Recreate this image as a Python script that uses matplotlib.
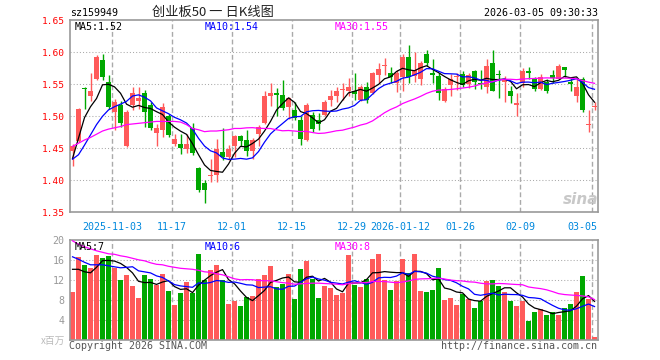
import matplotlib
matplotlib.use("Agg")
import matplotlib.pyplot as plt
import numpy as np
import pandas as pd

# daily candles, index 0 = 2025-10-23 ... index 87 = 2026-03-05
opens = [1.446, 1.462, 1.543, 1.531, 1.558, 1.588, 1.554, 1.506, 1.518, 1.454,
         1.518, 1.524, 1.536, 1.518, 1.474, 1.478, 1.500, 1.457, 1.457, 1.449,
         1.481, 1.420, 1.396, 1.406, 1.408, 1.444, 1.436, 1.453, 1.469, 1.463,
         1.445, 1.472, 1.490, 1.531, 1.537, 1.533, 1.514, 1.510, 1.494, 1.463,
         1.502, 1.494, 1.502, 1.525, 1.532, 1.541, 1.540, 1.539, 1.526, 1.546,
         1.536, 1.565, 1.578, 1.568, 1.552, 1.562, 1.593, 1.563, 1.558, 1.598,
         1.567, 1.563, 1.524, 1.549, 1.562, 1.566, 1.550, 1.571, 1.552, 1.545,
         1.583, 1.566, 1.553, 1.540, 1.517, 1.552, 1.570, 1.558, 1.543, 1.553,
         1.564, 1.559, 1.577, 1.553, 1.532, 1.558, 1.487, 1.514]
highs = [1.457, 1.513, 1.546, 1.568, 1.596, 1.597, 1.565, 1.527, 1.524, 1.510,
         1.545, 1.545, 1.541, 1.523, 1.488, 1.521, 1.503, 1.473, 1.472, 1.473,
         1.489, 1.421, 1.400, 1.434, 1.465, 1.481, 1.455, 1.470, 1.471, 1.479,
         1.466, 1.487, 1.539, 1.552, 1.544, 1.557, 1.530, 1.523, 1.501, 1.520,
         1.507, 1.505, 1.526, 1.541, 1.546, 1.552, 1.560, 1.567, 1.549, 1.553,
         1.569, 1.583, 1.591, 1.577, 1.572, 1.598, 1.612, 1.600, 1.587, 1.604,
         1.589, 1.567, 1.545, 1.566, 1.568, 1.570, 1.567, 1.572, 1.572, 1.589,
         1.604, 1.573, 1.563, 1.548, 1.537, 1.575, 1.577, 1.562, 1.566, 1.559,
         1.573, 1.582, 1.577, 1.561, 1.558, 1.561, 1.510, 1.523]
lows = [1.422, 1.460, 1.512, 1.524, 1.556, 1.556, 1.511, 1.478, 1.483, 1.452,
        1.510, 1.512, 1.483, 1.479, 1.454, 1.467, 1.468, 1.453, 1.441, 1.442,
        1.440, 1.381, 1.364, 1.398, 1.398, 1.432, 1.432, 1.437, 1.454, 1.438,
        1.433, 1.453, 1.488, 1.516, 1.500, 1.510, 1.496, 1.494, 1.455, 1.462,
        1.476, 1.479, 1.501, 1.516, 1.523, 1.526, 1.531, 1.526, 1.524, 1.520,
        1.535, 1.552, 1.564, 1.552, 1.538, 1.539, 1.552, 1.553, 1.549, 1.578,
        1.552, 1.525, 1.523, 1.531, 1.541, 1.546, 1.544, 1.542, 1.542, 1.536,
        1.539, 1.528, 1.523, 1.521, 1.500, 1.546, 1.558, 1.540, 1.541, 1.537,
        1.552, 1.558, 1.561, 1.539, 1.523, 1.506, 1.476, 1.510]
closes = [1.454, 1.511, 1.542, 1.540, 1.592, 1.561, 1.515, 1.522, 1.490, 1.507,
          1.537, 1.529, 1.506, 1.482, 1.482, 1.515, 1.471, 1.465, 1.451, 1.457,
          1.442, 1.385, 1.385, 1.408, 1.449, 1.436, 1.449, 1.469, 1.462, 1.445,
          1.463, 1.483, 1.532, 1.537, 1.534, 1.513, 1.528, 1.497, 1.465, 1.518,
          1.480, 1.488, 1.522, 1.532, 1.540, 1.543, 1.546, 1.535, 1.546, 1.526,
          1.568, 1.574, 1.579, 1.561, 1.568, 1.593, 1.562, 1.572, 1.584, 1.584,
          1.565, 1.536, 1.542, 1.558, 1.5635, 1.549, 1.565, 1.554, 1.550, 1.579,
          1.539, 1.565, 1.558, 1.532, 1.521, 1.570, 1.567, 1.542, 1.562, 1.539,
          1.560, 1.578, 1.573, 1.551, 1.546, 1.510, 1.488, 1.515]
volumes = [9.7, 16.7, 15.1, 14.4, 17.1, 16.4, 16.9, 14.4, 12.1, 13.1,
           10.9, 8.5, 13.1, 12.3, 11.1, 13.3, 9.9, 7.1, 9.5, 11.7,
           9.5, 17.3, 12.1, 14.1, 15.1, 12.1, 7.3, 7.9, 6.9, 8.7,
           8.9, 12.3, 13.1, 14.9, 10.7, 11.3, 13.3, 8.3, 14.3, 15.9,
           12.3, 8.5, 10.9, 10.5, 9.1, 9.5, 17.1, 11.1, 10.7, 12.3,
           16.3, 17.3, 12.1, 10.1, 11.9, 16.3, 13.5, 17.3, 9.9, 9.7,
           10.1, 14.5, 8.1, 8.5, 7.1, 9.3, 8.3, 6.5, 7.9, 11.9,
           12.1, 10.9, 9.7, 7.9, 6.9, 7.9, 3.9, 5.7, 6.3, 5.1,
           5.6, 5.1, 6.5, 7.3, 9.7, 12.9, 8.3, 0.7]

price_ma5_head = [1.434, 1.466, 1.498, 1.515]
price_ma10_head = [1.433, 1.440, 1.455, 1.471, 1.487, 1.500, 1.510, 1.515, 1.519]
price_ma30_head = [1.453, 1.458, 1.463, 1.467, 1.472, 1.477, 1.480, 1.482, 1.484,
                   1.487, 1.488, 1.489, 1.490, 1.491, 1.492, 1.492, 1.492, 1.492,
                   1.491, 1.487, 1.481, 1.479, 1.476, 1.477, 1.477, 1.478, 1.479,
                   1.481, 1.481]
vol_ma5_head = [14.2, 14.2, 13.7, 13.5]
vol_ma10_head = [16.7, 16.2, 15.6, 15.1, 15.1, 15.1, 14.9, 14.7, 14.5]
vol_ma30_head = [19.9, 19.2, 18.7, 18.3, 17.9, 17.6, 17.3, 17.2, 16.9, 16.7,
                 16.4, 16.1, 15.9, 15.5, 15.2, 15.1, 14.8, 14.6, 14.4, 14.3,
                 14.2, 14.0, 13.7, 13.6, 13.3, 13.1, 12.7, 12.3, 12.1]

date_pos = [7, 17, 27, 37, 47, 55, 65, 75, 87]
date_labels = ["2025-11-03", "11-17", "12-01", "12-15", "12-29",
               "2026-01-12", "01-26", "02-09", "03-05"]
price_ticks = [1.35, 1.40, 1.45, 1.50, 1.55, 1.60, 1.65]
vol_ticks = [4, 8, 12, 16, 20]
price_ma_labels = ["MA5:1.52", "MA10:1.54", "MA30:1.55"]
vol_ma_labels = ["MA5:7", "MA10:6", "MA30:8"]

MONO = "DejaVu Sans Mono"
CJK = ["Noto Sans CJK SC", "DejaVu Sans"]
RED = "#ff5a5a"
GREEN = "#00a800"
MA_COLORS = ["black", "#0000ff", "#ff00ff"]
GRID = "#aaaaaa"
W, H = 660, 360


def moving_average(values, n, head):
    ma = pd.Series(values, dtype=float).rolling(n).mean().to_numpy()
    ma[: len(head)] = head
    return ma


def px(fig, x, y, s, **kw):
    fig.text(x / W, 1 - y / H, s, **kw)


def style_axes(ax, hlines):
    for s in ax.spines.values():
        s.set_color("#999999")
        s.set_linewidth(1.2)
    for lv in hlines:
        ax.axhline(lv, color=GRID, lw=0.75, ls=(0, (1, 2)), zorder=0)
    for p in date_pos:
        ax.axvline(p - 0.42, color=GRID, lw=1.0, ls=(0, (3.5, 2)), zorder=0)
    ax.set_xlim(-0.42, 87.53)
    ax.set_xticks([])
    ax.tick_params(axis="y", length=0, pad=4)


opens = np.array(opens)
highs = np.array(highs)
lows = np.array(lows)
closes = np.array(closes)
volumes = np.array(volumes)
x = np.arange(len(closes))
colors = np.where(closes >= opens, RED, GREEN)

fig = plt.figure(figsize=(W / 100, H / 100), dpi=100)
ax = fig.add_axes([70 / W, 1 - 212.3 / H, 527.7 / W, 192 / H])
axv = fig.add_axes([70 / W, 1 - 340.3 / H, 527.7 / W, 100 / H])

# price panel
style_axes(ax, price_ticks[1:-1])
ax.vlines(x, lows, highs, colors=colors, linewidth=1, zorder=2)
body_bottom = np.minimum(opens, closes)
body_h = np.maximum(np.abs(closes - opens), 0.0016)
ax.bar(x, body_h, bottom=body_bottom, width=0.82, color=colors, linewidth=0, zorder=3)
price_mas = [moving_average(closes, 5, price_ma5_head),
             moving_average(closes, 10, price_ma10_head),
             moving_average(closes, 30, price_ma30_head)]
for ma, c in zip(price_mas, MA_COLORS):
    ax.plot(x, ma, color=c, lw=0.9, zorder=4)
ax.set_ylim(1.35, 1.65)
ax.set_yticks(price_ticks)
ax.set_yticklabels([f"{v:.2f}" for v in price_ticks], color="#ff0000",
                   fontfamily=MONO, fontsize=6.8)
for p, lab in zip(date_pos, date_labels):
    last = p == date_pos[-1]
    ax.text(87.45 if last else p - 0.42, -0.077, lab,
            transform=ax.get_xaxis_transform(), ha="right" if last else "center",
            va="center", color="#0088dd", fontfamily=MONO, fontsize=7.2)

# volume panel
style_axes(axv, vol_ticks[:-1])
axv.bar(x, volumes, width=0.82, color=colors, linewidth=0, zorder=2)
vol_mas = [moving_average(volumes, 5, vol_ma5_head),
           moving_average(volumes, 10, vol_ma10_head),
           moving_average(volumes, 30, vol_ma30_head)]
for ma, c in zip(vol_mas, MA_COLORS):
    axv.plot(x, ma, color=c, lw=0.9, zorder=4)
axv.set_ylim(0, 20)
axv.set_yticks(vol_ticks)
axv.set_yticklabels([str(v) for v in vol_ticks], color="#999999",
                    fontfamily=MONO, fontsize=7.2)

# header and labels
px(fig, 70, 13, "sz159949", ha="left", va="center", fontfamily=MONO, fontsize=7.2)
px(fig, 213, 12, "创业板50 一 日K线图", ha="center", va="center",
   family=CJK, fontsize=9.5, color="#222222")
px(fig, 597.7, 13, "2026-03-05 09:30:33", ha="right", va="center",
   fontfamily=MONO, fontsize=7.2)
for lab, c, xx in zip(price_ma_labels, MA_COLORS, [75, 205, 334.7]):
    px(fig, xx, 26.5, lab, ha="left", va="center", color=c, fontfamily=MONO, fontsize=7.2)
for lab, c, xx in zip(vol_ma_labels, MA_COLORS, [75, 205, 334.7]):
    px(fig, xx, 246.5, lab, ha="left", va="center", color=c, fontfamily=MONO, fontsize=7.2)
px(fig, 65.5, 341, "x百万", ha="right", va="center", family=CJK,
   fontsize=7, color="#bbbbbb")
px(fig, 69.3, 346, "Copyright 2026 SINA.COM", ha="left", va="center",
   color="#555555", fontfamily=MONO, fontsize=7.2)
px(fig, 596.7, 346, "http://finance.sina.com.cn", ha="right", va="center",
   color="#555555", fontfamily=MONO, fontsize=7.2)
px(fig, 581, 200, "sina", ha="center", va="center", color="#c8c8c8",
   fontsize=11, fontweight="bold", style="italic")

fig.savefig("out.png", dpi=100, facecolor="white")
plt.close(fig)
